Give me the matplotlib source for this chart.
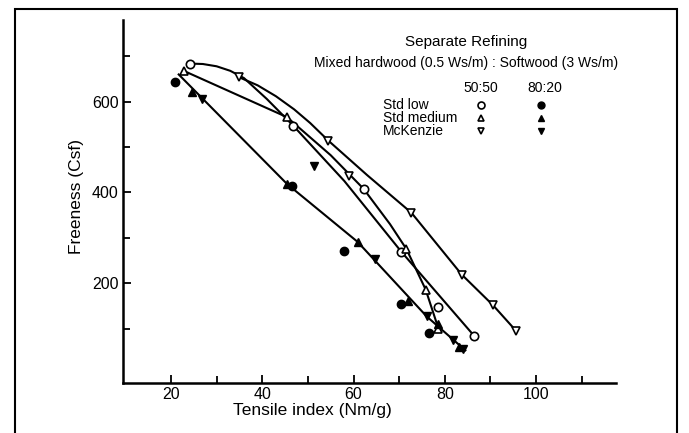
import numpy as np
import matplotlib
matplotlib.use('Agg')
import matplotlib.pyplot as plt
from matplotlib.patches import Rectangle

plt.rcParams['font.family'] = ['Liberation Sans', 'DejaVu Sans']

# marker readings (tensile index Nm/g, freeness Csf)
low_5050_x = [24.2, 46.8, 62.2, 70.5, 78.6, 86.5]
low_5050_y = [684, 547, 408, 269, 148, 83]
low_8020_x = [20.9, 46.5, 58.0, 70.5, 76.5]
low_8020_y = [643, 415, 272, 155, 90]
med_5050_x = [22.9, 45.4, 71.6, 75.8, 78.6]
med_5050_y = [668, 566, 275, 186, 100]
med_8020_x = [24.6, 45.4, 60.9, 72.0, 78.4, 83.2]
med_8020_y = [621, 419, 291, 160, 110, 60]
mck_5050_x = [34.9, 54.5, 58.9, 72.7, 83.7, 90.6, 95.6]
mck_5050_y = [654, 514, 437, 355, 219, 151, 95]
mck_8020_x = [26.8, 51.4, 64.7, 76.0, 81.8, 84.0]
mck_8020_y = [606, 459, 253, 127, 74, 55]

# fitted curves as drawn in the original
curve_low_x = [24.2, 27, 30, 33, 36, 41, 46.8, 58.0, 70.5, 86.5]
curve_low_y = [684, 683, 678, 668, 652, 606, 547, 425, 269, 83]
curve_med_x = [22.8, 45.4, 55, 62.2, 68, 71.6, 75.8, 78.6]
curve_med_y = [668, 566, 482, 408, 330, 275, 186, 100]
curve_mck_x = [34.9, 39, 43, 47, 50.5, 54.5, 63, 72.7, 78.2, 83.7, 90.6, 95.6]
curve_mck_y = [654, 636, 612, 583, 553, 514, 438, 355, 287, 219, 151, 95]
curve_fill_x = [21.7, 45.4, 60.9, 76.0, 84.5]
curve_fill_y = [660, 419, 291, 127, 52]

W, H = 689, 433
fig = plt.figure(figsize=(W / 100, H / 100), dpi=100)
ax = fig.add_axes([123 / W, 1 - 383 / H, 493 / W, 363 / H])

for cx, cy in [(curve_low_x, curve_low_y), (curve_med_x, curve_med_y),
               (curve_mck_x, curve_mck_y), (curve_fill_x, curve_fill_y)]:
    ax.plot(cx, cy, color='black', lw=1.5, zorder=2)

ms = 6
open_kw = dict(ls='none', mfc='white', mec='black', mew=1.2, ms=ms, zorder=3)
fill_kw = dict(ls='none', mfc='black', mec='black', ms=ms, zorder=3)
ax.plot(low_5050_x, low_5050_y, marker='o', **open_kw)
ax.plot(low_8020_x, low_8020_y, marker='o', **fill_kw)
ax.plot(med_5050_x, med_5050_y, marker='^', **open_kw)
ax.plot(med_8020_x, med_8020_y, marker='^', **fill_kw)
ax.plot(mck_5050_x, mck_5050_y, marker='v', **open_kw)
ax.plot(mck_8020_x, mck_8020_y, marker='v', **fill_kw)

ax.set_xlim(9.5, 117.5)
ax.set_ylim(-20, 780)
ax.set_xticks([20, 40, 60, 80, 100])
ax.set_xticks([30, 50, 70, 90, 110], minor=True)
ax.set_yticks([200, 400, 600])
ax.set_yticks([100, 300, 500, 700], minor=True)
ax.tick_params(which='both', direction='in', width=1.3, labelsize=11.5)
ax.tick_params(which='major', length=6, pad=3)
ax.tick_params(which='minor', length=5)
for s in ['top', 'right']:
    ax.spines[s].set_visible(False)
for s in ['left', 'bottom']:
    ax.spines[s].set_linewidth(1.8)

fig.text(312 / W, 1 - 410 / H, 'Tensile index (Nm/g)', fontsize=12.5,
         ha='center', va='center')
fig.text(76 / W, 1 - 196 / H, 'Freeness (Csf)', fontsize=12.5,
         rotation=90, ha='center', va='center')

# key
fig.text(466 / W, 1 - 42 / H, 'Separate Refining', fontsize=11,
         ha='center', va='center')
fig.text(466 / W, 1 - 63 / H, 'Mixed hardwood (0.5 Ws/m) : Softwood (3 Ws/m)',
         fontsize=10, ha='center', va='center')
fig.text(481 / W, 1 - 88 / H, '50:50', fontsize=10, ha='center', va='center')
fig.text(545 / W, 1 - 88 / H, '80:20', fontsize=10, ha='center', va='center')
rows = ['Std low', 'Std medium', 'McKenzie']
row_markers = ['o', '^', 'v']
for i, (name, m) in enumerate(zip(rows, row_markers)):
    py = 1 - (105 + 13 * i) / H
    fig.text(383 / W, py, name, fontsize=10, ha='left', va='center')
    fig.add_artist(plt.Line2D([481 / W], [py], marker=m, ls='none', ms=5,
                              mfc='white', mec='black', mew=1.2,
                              transform=fig.transFigure))
    fig.add_artist(plt.Line2D([541 / W], [py], marker=m, ls='none', ms=5,
                              mfc='black', mec='black',
                              transform=fig.transFigure))

# outer frame
fig.add_artist(Rectangle((15 / W, -0.02), 662 / W, 1.02 - 9 / H,
                         transform=fig.transFigure, fill=False,
                         ec='black', lw=1.5))

fig.savefig('out.png', dpi=100)
